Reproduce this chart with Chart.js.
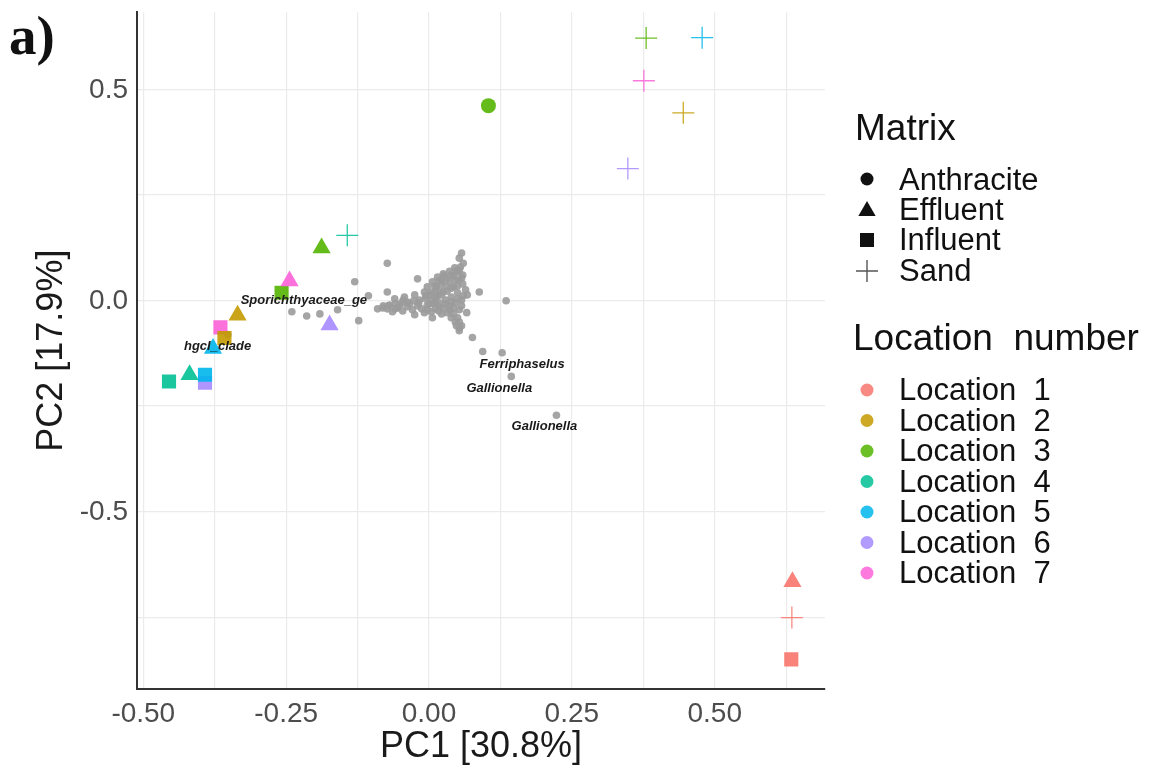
<!DOCTYPE html>
<html>
<head>
<meta charset="utf-8">
<script src="https://cdn.jsdelivr.net/npm/chart.js@4.4.1/dist/chart.umd.min.js"></script>
<style>
  html, body { margin: 0; padding: 0; background: #ffffff; }
  #c { display: block; }
</style>
</head>
<body>
<canvas id="c" width="1149" height="769"></canvas>
<script>
// ---------------- DATA ----------------
const locationNames = ['Location  1','Location  2','Location  3','Location  4','Location  5','Location  6','Location  7'];
const locationColors = ['#F8766D','#C49A00','#53B400','#00C094','#00B6EB','#A58AFF','#FB61D7'];
const matrixNames = ['Anthracite','Effluent','Influent','Sand'];

// Anthracite (circles)
const anthraciteX   = [0.104];
const anthraciteY   = [0.461];
const anthraciteLoc = [3];

// Effluent (triangles)
const effluentX   = [-0.188, -0.244, -0.335, -0.174, -0.378, -0.419, 0.636];
const effluentY   = [ 0.124,  0.046, -0.035, -0.058, -0.114, -0.176, -0.666];
const effluentLoc = [3, 7, 2, 6, 5, 4, 1];

// Influent (squares)
const influentX   = [-0.258, -0.365, -0.358, -0.455, -0.392, -0.392, 0.634];
const influentY   = [ 0.018, -0.064, -0.089, -0.192, -0.195, -0.176, -0.850];
const influentLoc = [3, 7, 2, 4, 6, 5, 1];

// Sand (crosses)
const sandX   = [0.380, 0.478, 0.376, 0.445, 0.348, -0.143, 0.635];
const sandY   = [0.621, 0.622, 0.520, 0.444, 0.312,  0.154, -0.751];
const sandLoc = [3, 5, 7, 2, 6, 4, 1];

// Taxa loadings (grey points)
const taxaX = [0.057,0.053,-0.073,-0.130,-0.020,0.088,0.067,0.135,-0.073,-0.240,-0.214,-0.191,-0.160,-0.123,-0.025,0.006,0.053,0.066,0.053,0.076,0.094,0.128,0.144,0.223,0.053,
  -0.090,-0.080,-0.069,-0.059,-0.048,-0.038,-0.027,-0.017,-0.006,-0.073,-0.055,-0.038,-0.020,-0.003,-0.060,-0.043,-0.025,
  0.004,0.013,0.022,0.031,0.039,0.011,0.022,0.032,0.043,0.008,0.018,0.029,0.039,0.050,0.025,0.036,0.046,-0.003,0.006,-0.008,
  0.048,0.055,0.060,0.052,0.059,0.025,0.015,0.032,0.039,0.046,0.017,0.057,0.064,-0.106,-0.352,
  -0.081,-0.071,-0.064,-0.052,-0.046,-0.034,-0.029,-0.018,-0.013,-0.008,-0.045,-0.059,
  0.001,0.004,0.011,0.018,0.015,0.025,0.029,0.036,0.039,0.046,0.043,0.050,0.022,
  -0.003,0.004,0.011,0.018,0.029,0.039,0.043,0.022,0.036,0.043,0.050,0.053,0.048,0.057,
  0.011,0.001,-0.006,0.010,0.018,0.027,0.036,0.045,0.053,0.057,0.050,0.059,0.060,0.057,0.050];
const taxaY = [0.112,0.100,0.088,0.044,0.051,0.020,0.013,-0.001,0.020,-0.027,-0.037,-0.032,-0.022,-0.048,-0.034,-0.041,-0.022,-0.029,-0.065,-0.088,-0.121,-0.124,-0.180,-0.272,-0.072,
  -0.020,-0.013,-0.011,-0.008,-0.006,-0.004,-0.001,0.001,0.004,-0.020,-0.018,-0.015,-0.013,-0.011,0.004,0.008,0.013,
  0.020,0.032,0.041,0.051,0.060,0.006,0.013,0.022,0.032,-0.008,-0.006,0.001,0.008,0.018,-0.018,-0.013,-0.006,0.032,0.044,0.020,
  0.070,0.079,0.088,0.048,0.060,0.063,0.055,-0.029,-0.041,-0.051,-0.025,0.001,0.025,0.011,-0.081,
  -0.018,-0.013,-0.027,-0.013,-0.025,-0.008,-0.022,-0.006,-0.020,-0.029,0.001,-0.020,
  0.013,0.001,0.020,0.025,0.011,0.020,0.034,0.044,0.029,0.048,0.058,0.067,0.048,
  -0.022,-0.027,-0.020,-0.015,-0.008,-0.004,-0.018,-0.032,-0.022,-0.032,-0.041,-0.051,-0.060,-0.060,
  -0.004,-0.008,0.011,0.034,0.046,0.058,0.069,0.077,0.072,0.053,0.034,0.039,0.011,-0.013,0.004];

// Taxa text labels
const taxaLabels = ['Sporichthyaceae_ge','hgcI_clade','Ferriphaselus','Gallionella','Gallionella'];
const taxaLabelX = [-0.219, -0.370, 0.163, 0.123, 0.202];
const taxaLabelY = [-0.001, -0.110, -0.152, -0.209, -0.298];

// Axis ticks
const xTickValues = [-0.5, -0.25, 0, 0.25, 0.5];
const xTickLabels = ['-0.50', '-0.25', '0.00', '0.25', '0.50'];
const xMinorValues = [-0.375, -0.125, 0.125, 0.375, 0.625];
const yTickValues = [-0.5, 0, 0.5];
const yTickLabels = ['-0.5', '0.0', '0.5'];
const yMinorValues = [-0.75, -0.25, 0.25];

// ---------------- BUILD ----------------
const FONT = '"Liberation Sans", Arial, Helvetica, sans-serif';
function hexA(hex, a) {
  const n = parseInt(hex.slice(1), 16);
  return `rgba(${(n>>16)&255},${(n>>8)&255},${n&255},${a})`;
}
function pts(xs, ys) { return xs.map((x, i) => ({x: x, y: ys[i]})); }
function cols(locs, a) { return locs.map(l => hexA(locationColors[l-1], a)); }

const datasets = [
  { label: 'Anthracite', data: pts(anthraciteX, anthraciteY), pointStyle: 'circle', pointRadius: 7.5,
    backgroundColor: cols(anthraciteLoc, 0.9), borderWidth: 0 },
  { label: 'Effluent', data: pts(effluentX, effluentY), pointStyle: 'triangle', pointRadius: 10.5,
    backgroundColor: cols(effluentLoc, 0.9), borderWidth: 0 },
  { label: 'Influent', data: pts(influentX, influentY), pointStyle: 'rect', pointRadius: 10,
    backgroundColor: cols(influentLoc, 0.9), borderWidth: 0 },
  { label: 'Sand', data: pts(sandX, sandY), pointStyle: 'cross', pointRadius: 11,
    borderColor: cols(sandLoc, 0.85), backgroundColor: cols(sandLoc, 0.85), borderWidth: 1.3 },
  { label: 'taxa', data: pts(taxaX, taxaY), pointStyle: 'circle', pointRadius: 3.8,
    backgroundColor: 'rgba(155,155,155,0.9)', borderWidth: 0 }
];

const labelsPlugin = {
  id: 'taxaLabels',
  afterDatasetsDraw(chart) {
    const {ctx, scales: {x, y}} = chart;
    ctx.save();
    ctx.font = 'italic bold 13px ' + FONT;
    ctx.fillStyle = '#1a1a1a';
    ctx.textAlign = 'center';
    ctx.textBaseline = 'middle';
    taxaLabels.forEach((t, i) => {
      ctx.fillText(t, x.getPixelForValue(taxaLabelX[i]), y.getPixelForValue(taxaLabelY[i]));
    });
    // y tick labels
    ctx.font = '28px ' + FONT;
    ctx.fillStyle = '#4d4d4d';
    ctx.textAlign = 'right';
    ctx.textBaseline = 'middle';
    yTickValues.forEach((v, i) => {
      ctx.fillText(yTickLabels[i], chart.chartArea.left - 9, y.getPixelForValue(v) + 1);
    });
    ctx.restore();
  }
};

const legendPlugin = {
  id: 'sideLegend',
  afterDraw(chart) {
    const ctx = chart.ctx;
    ctx.save();
    ctx.textAlign = 'left';
    ctx.textBaseline = 'alphabetic';
    ctx.fillStyle = '#111';
    // panel tag
    ctx.font = 'bold 55px "Liberation Serif", "Times New Roman", serif';
    ctx.fillText('a)', 9, 54);
    // Matrix legend
    ctx.font = '37px ' + FONT;
    ctx.fillText('Matrix', 855, 140);
    ctx.font = '31px ' + FONT;
    const mBase = [190, 220, 250, 281];
    const sx = 867;
    matrixNames.forEach((m, i) => {
      const cy = mBase[i] - 11;
      ctx.fillStyle = '#111';
      ctx.fillText(m, 899, mBase[i]);
      ctx.beginPath();
      if (i === 0) { ctx.arc(sx, cy, 6.5, 0, Math.PI * 2); ctx.fill(); }
      else if (i === 1) {
        const r = 10;
        ctx.moveTo(sx, cy - r + 2);
        ctx.lineTo(sx + r * 0.866, cy + r / 2 + 2);
        ctx.lineTo(sx - r * 0.866, cy + r / 2 + 2);
        ctx.closePath(); ctx.fill();
      } else if (i === 2) { ctx.rect(sx - 7, cy - 7 + 1, 14, 14); ctx.fill(); }
      else {
        ctx.strokeStyle = '#555'; ctx.lineWidth = 1.4;
        ctx.moveTo(sx - 11, cy + 1); ctx.lineTo(sx + 11, cy + 1);
        ctx.moveTo(sx, cy - 10); ctx.lineTo(sx, cy + 12);
        ctx.stroke();
      }
    });
    // Location legend
    ctx.fillStyle = '#111';
    ctx.font = '37px ' + FONT;
    ctx.fillText('Location  number', 853, 350);
    ctx.font = '31px ' + FONT;
    locationNames.forEach((n, i) => {
      const base = 400 + i * 30.5;
      ctx.fillStyle = '#111';
      ctx.fillText(n, 899, base);
      ctx.beginPath();
      ctx.fillStyle = hexA(locationColors[i], 0.85);
      ctx.arc(sx, base - 10, 6.5, 0, Math.PI * 2);
      ctx.fill();
    });
    ctx.restore();
  }
};

function zeroPad(s) { s.paddingTop = 0; s.paddingBottom = 0; s.paddingLeft = 0; s.paddingRight = 0; }

new Chart(document.getElementById('c').getContext('2d'), {
  type: 'scatter',
  data: { datasets: datasets },
  options: {
    responsive: false,
    animation: false,
    events: [],
    layout: { padding: { left: 0, right: 324, top: 5, bottom: 0 } },
    plugins: { legend: { display: false }, tooltip: { enabled: false } },
    scales: {
      x: {
        type: 'linear', min: -0.511, max: 0.693,
        afterBuildTicks: s => { s.ticks = xTickValues.concat(xMinorValues).sort((a,b)=>a-b).map(v => ({value: v})); },
        afterFit: s => { s.height = 80; zeroPad(s); },
        ticks: {
          autoSkip: false, maxRotation: 0, padding: 8, color: '#4d4d4d',
          font: { family: FONT, size: 28 },
          callback: v => { const i = xTickValues.indexOf(v); return i >= 0 ? xTickLabels[i] : ''; }
        },
        grid: { color: '#ebebeb', lineWidth: 1.2, drawTicks: false },
        border: { display: true, color: '#333333', width: 2 },
        title: { display: true, text: 'PC1 [30.8%]', color: '#1a1a1a', font: { family: FONT, size: 36 }, padding: { top: 0, bottom: 0 } }
      },
      y: {
        type: 'linear', min: -0.920, max: 0.682,
        afterBuildTicks: s => { s.ticks = yTickValues.concat(yMinorValues).sort((a,b)=>a-b).map(v => ({value: v})); },
        afterFit: s => { s.width = 137; zeroPad(s); },
        ticks: { display: false },
        grid: { color: '#ebebeb', lineWidth: 1.2, drawTicks: false },
        border: { display: true, color: '#333333', width: 2 },
        title: { display: true, text: 'PC2 [17.9%]', color: '#1a1a1a', font: { family: FONT, size: 36 }, padding: { top: 30, bottom: 0 } }
      }
    }
  },
  plugins: [labelsPlugin, legendPlugin]
});
</script>
</body>
</html>
